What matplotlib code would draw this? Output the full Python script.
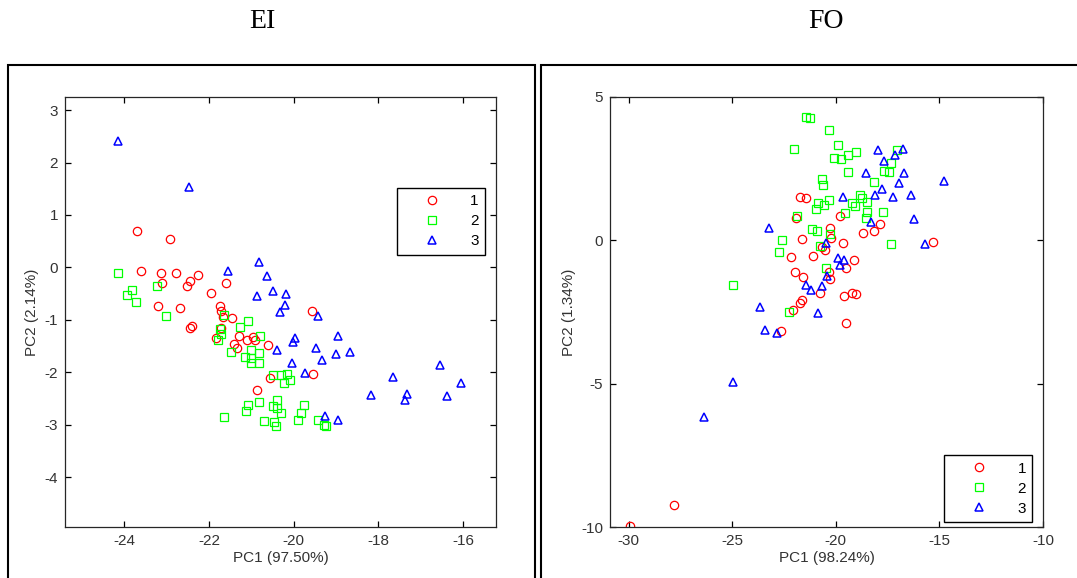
import matplotlib
matplotlib.use('Agg')
import matplotlib.pyplot as plt
from matplotlib.patches import Rectangle

plt.rcParams['font.family'] = ['Liberation Sans', 'DejaVu Sans']
plt.rcParams['axes.unicode_minus'] = False

# EI panel -- PCA scores
ei_x1 = [-23.69, -22.92, -23.60, -23.14, -22.77, -22.25, -23.10, -22.46, -22.52, -21.61,
         -21.95, -23.20, -22.68, -21.73, -21.71, -21.67, -21.46, -22.39, -22.45, -21.71,
         -21.83, -21.29, -21.11, -20.95, -20.92, -21.40, -21.33, -20.61, -19.57, -20.55,
         -19.54, -20.86]
ei_y1 = [0.70, 0.55, -0.06, -0.10, -0.10, -0.15, -0.30, -0.25, -0.35, -0.30,
         -0.48, -0.73, -0.78, -0.74, -0.84, -0.95, -0.97, -1.12, -1.15, -1.15,
         -1.35, -1.30, -1.39, -1.33, -1.39, -1.46, -1.54, -1.48, -0.83, -2.10,
         -2.03, -2.33]
ei_x2 = [-24.15, -23.83, -23.93, -23.73, -23.22, -23.02, -21.64, -21.08, -21.27, -21.74,
         -21.71, -21.78, -20.79, -21.47, -21.00, -21.14, -21.00, -21.00, -20.81, -20.81,
         -20.50, -20.29, -20.16, -20.24, -20.08, -21.64, -21.08, -21.13, -20.81, -20.40,
         -20.49, -20.40, -20.30, -19.75, -19.82, -20.69, -20.47, -20.41, -19.89, -19.43,
         -19.28, -19.24]
ei_y2 = [-0.10, -0.43, -0.52, -0.65, -0.35, -0.93, -0.90, -1.02, -1.13, -1.18,
         -1.26, -1.38, -1.30, -1.61, -1.58, -1.70, -1.73, -1.83, -1.63, -1.83,
         -2.05, -2.06, -2.04, -2.20, -2.15, -2.85, -2.63, -2.73, -2.56, -2.52,
         -2.65, -2.68, -2.77, -2.62, -2.77, -2.92, -2.94, -3.02, -2.91, -2.90,
         -3.00, -3.02]
ei_x3 = [-24.16, -22.48, -20.83, -21.54, -20.64, -20.48, -20.18, -20.86, -20.20, -20.32,
         -19.42, -18.96, -19.96, -20.02, -19.47, -20.39, -19.01, -18.68, -19.33, -20.05,
         -19.74, -16.54, -17.66, -16.04, -18.18, -17.32, -17.38, -16.37, -19.27, -18.96]
ei_y3 = [2.41, 1.54, 0.10, -0.07, -0.17, -0.45, -0.51, -0.55, -0.72, -0.85,
         -0.93, -1.30, -1.34, -1.43, -1.54, -1.57, -1.65, -1.62, -1.76, -1.82,
         -2.02, -1.87, -2.09, -2.20, -2.44, -2.41, -2.52, -2.46, -2.83, -2.91]

# FO panel
fo_x1 = [-21.72, -21.43, -19.82, -21.93, -17.88, -18.14, -18.67, -20.27, -20.21, -21.61,
         -19.64, -20.67, -20.51, -22.15, -21.10, -19.10, -19.50, -21.95, -21.56, -20.34,
         -20.29, -15.31, -20.78, -21.64, -21.72, -22.06, -19.59, -19.24, -19.03, -19.49,
         -22.64, -27.79, -29.95]
fo_y1 = [1.52, 1.48, 0.85, 0.77, 0.57, 0.34, 0.25, 0.42, 0.09, 0.06,
         -0.09, -0.22, -0.34, -0.59, -0.54, -0.69, -0.96, -1.10, -1.28, -1.10,
         -1.36, -0.05, -1.85, -2.09, -2.17, -2.43, -1.94, -1.84, -1.88, -2.90,
         -3.17, -9.22, -9.96]
fo_x2 = [-21.43, -21.23, -20.33, -22.00, -19.89, -20.11, -19.75, -19.43, -19.01, -17.07,
         -17.36, -17.69, -17.44, -19.43, -18.17, -20.65, -20.62, -20.35, -20.88, -20.59,
         -20.98, -19.22, -19.09, -18.81, -18.75, -18.49, -19.58, -18.49, -18.53, -17.71,
         -21.88, -21.15, -20.91, -20.27, -22.58, -22.72, -20.74, -17.35, -20.46, -24.95,
         -22.25]
fo_y2 = [4.29, 4.26, 3.85, 3.20, 3.34, 2.87, 2.83, 2.97, 3.09, 3.15,
         2.69, 2.42, 2.37, 2.37, 2.05, 2.13, 1.93, 1.41, 1.29, 1.23,
         1.09, 1.31, 1.20, 1.58, 1.47, 1.35, 0.94, 0.98, 0.79, 0.98,
         0.85, 0.39, 0.33, 0.22, 0.01, -0.41, -0.19, -0.13, -0.98, -1.56,
         -2.49]
fo_x3 = [-17.96, -16.75, -17.12, -17.65, -18.54, -16.73, -16.93, -17.76, -18.09, -17.26,
         -16.37, -19.67, -16.23, -18.30, -23.22, -15.71, -20.48, -19.89, -19.62, -19.82,
         -20.43, -14.79, -21.44, -21.18, -20.65, -20.86, -23.67, -23.40, -22.85, -24.96,
         -26.37]
fo_y3 = [3.15, 3.20, 2.98, 2.77, 2.34, 2.34, 2.01, 1.78, 1.58, 1.52,
         1.59, 1.50, 0.76, 0.63, 0.44, -0.13, -0.10, -0.63, -0.67, -0.86,
         -1.26, 2.07, -1.56, -1.73, -1.59, -2.52, -2.34, -3.13, -3.24, -4.93,
         -6.17]

fig = plt.figure(figsize=(10.77, 5.78), dpi=100)

# outer frames around each panel
fig.patches.append(Rectangle((0.0074, -0.01), 0.4893, 0.8975, transform=fig.transFigure,
                             fill=False, edgecolor='black', linewidth=1.5))
fig.patches.append(Rectangle((0.5023, -0.01), 0.52, 0.8975, transform=fig.transFigure,
                             fill=False, edgecolor='black', linewidth=1.5))

fig.text(0.244, 0.962, 'EI', family='Liberation Serif', fontsize=20, ha='center', va='center')
fig.text(0.767, 0.962, 'FO', family='Liberation Serif', fontsize=20, ha='center', va='center')

ax1 = fig.add_axes([0.0604, 0.0882, 0.4002, 0.744])
ax2 = fig.add_axes([0.5664, 0.0882, 0.402, 0.744])


def draw(ax, x1, y1, x2, y2, x3, y3):
    ax.plot(x1, y1, 'o', mfc='none', mec='red', ms=6, mew=0.9, label='1')
    ax.plot(x2, y2, 's', mfc='none', mec='#00ff00', ms=6, mew=0.9, label='2')
    ax.plot(x3, y3, '^', mfc='none', mec='blue', ms=5.5, mew=1.1, label='3')
    ax.tick_params(direction='in', top=True, right=True, length=4, width=0.9,
                   labelsize=11, labelcolor='#333333', pad=5)
    for s in ax.spines.values():
        s.set_linewidth(0.9)
        s.set_color('#262626')


draw(ax1, ei_x1, ei_y1, ei_x2, ei_y2, ei_x3, ei_y3)
ax1.set_xlim(-25.4, -15.22)
ax1.set_ylim(-4.95, 3.25)
ax1.set_xticks([-24, -22, -20, -18, -16])
ax1.set_yticks([3, 2, 1, 0, -1, -2, -3, -4])
ax1.set_xlabel('PC1 (97.50%)', fontsize=11, color='#333333', labelpad=2)
ax1.set_ylabel('PC2 (2.14%)', fontsize=11, color='#333333', labelpad=4)
ax1.legend(loc='upper right', bbox_to_anchor=(0.974, 0.788), borderaxespad=0,
           fancybox=False, edgecolor='black', framealpha=1, fontsize=11,
           handlelength=3.8, handletextpad=0.6, labelspacing=0.4, borderpad=0.4,
           markerfirst=True).get_frame().set_linewidth(1.0)

draw(ax2, fo_x1, fo_y1, fo_x2, fo_y2, fo_x3, fo_y3)
ax2.set_xlim(-30.9, -10)
ax2.set_ylim(-10, 5)
ax2.set_xticks([-30, -25, -20, -15, -10])
ax2.set_yticks([5, 0, -5, -10])
ax2.set_xlabel('PC1 (98.24%)', fontsize=11, color='#333333', labelpad=2)
ax2.set_ylabel('PC2 (1.34%)', fontsize=11, color='#333333', labelpad=4)
ax2.legend(loc='lower right', bbox_to_anchor=(0.975, 0.012), borderaxespad=0,
           fancybox=False, edgecolor='black', framealpha=1, fontsize=11,
           handlelength=3.8, handletextpad=0.6, labelspacing=0.4, borderpad=0.4,
           markerfirst=True).get_frame().set_linewidth(1.0)

fig.savefig('out.png', dpi=100)
